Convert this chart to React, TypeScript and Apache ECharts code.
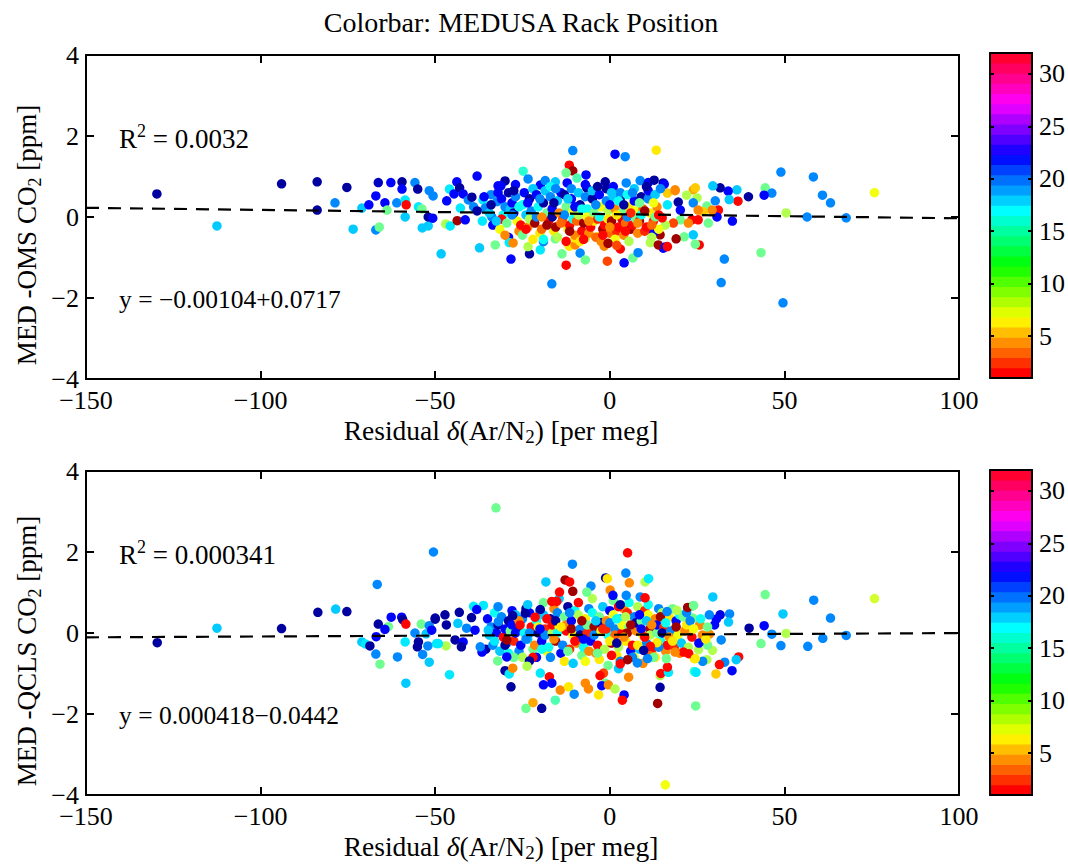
import React, { useEffect, useRef } from 'react';
import * as echarts from 'echarts';

const FONT = "'Liberation Serif', 'Times New Roman', serif";

// ---------- axes / labels ----------
const xTicks = [-150, -100, -50, 0, 50, 100];
const yTicks = [-4, -2, 0, 2, 4];
const colorbarTicks = [5, 10, 15, 20, 25, 30];
const colorRange = [1, 32];
const colorLevels = 32;

const titleText = 'Colorbar: MEDUSA Rack Position';
const yNames = [
  ['MED -OMS CO', '2', ' [ppm]'],
  ['MED -QCLS CO', '2', ' [ppm]'],
];
const xName = ['Residual ', 'δ', '(Ar/N', '2', ') [per meg]'];
const r2Values = ['0.0032', '0.000341'];
const fitTexts = ['y = −0.00104+0.0717', 'y = 0.000418−0.0442'];

// dashed fit lines (endpoints at x=-150 and x=100)
const fitTop = [[-150, 0.227], [100, -0.032]];
const fitBottom = [[-150, -0.107], [100, -0.002]];

// ---------- data: [residual, difference, rack position] ----------
const topSpread = [
  [-129.7, 0.57, 2], [-112.5, -0.22, 11], [-94, 0.82, 2], [-83.8, 0.87, 2], [-83.8, 0.17, 2],
  [-75.3, 0.73, 2], [-78.7, 0.35, 9], [-73.5, -0.3, 11], [-71, 0.22, 11], [-69, 0.3, 5],
  [-67, -0.32, 9], [-66, -0.25, 16], [-66.3, 0.85, 3], [-67, 0.52, 5], [-64.4, 0.35, 5],
  [-63.8, 0.17, 16], [-62.7, 0.85, 5], [-61, 0.35, 9], [-59.5, 0.87, 2], [-59.5, 0.69, 5],
  [-58.6, 0.42, 12], [-58.3, 0.3, 28], [-58.6, 0, 11], [-55.8, 0.85, 9], [-55, 0.69, 2],
  [-54.8, 0.25, 12], [-53.8, 0.2, 16], [-53.7, -0.27, 11], [-52, -0.22, 11], [-51.7, 0.65, 9],
  [-50.6, 0.52, 9], [-52, 0, 2], [-50.7, -0.03, 5], [-48.3, -0.91, 11], [-47, -0.17, 18],
  [-45.7, -0.22, 12], [-46.7, 0.4, 5], [-45.9, 0.69, 12], [-44.6, 0.57, 5], [-43.7, -0.09, 31],
  [-43.8, 0.87, 5], [-43, 0.72, 2], [-42, 0.57, 5], [-41.4, -0.07, 5], [-42.8, 0.22, 12],
  [-40.5, 0.42, 9], [-39.5, 0.49, 2], [-39, 0.25, 9], [-38, 1.01, 5], [-37.3, -0.76, 11],
  [-36.3, 0.42, 12], [-35.7, 0.22, 9], [-32.8, -0.69, 16], [-33.8, 0, 9], [-32, 0.77, 5],
  [-32.3, 0.38, 9],
  [49, 1.11, 9], [58.3, 0.99, 9], [60.9, 0.54, 9], [63.2, 0.35, 9], [75.8, 0.6, 20],
  [67.7, -0.02, 9], [56.5, 0, 9], [50.5, 0.1, 18], [44.5, 0.72, 16], [46.4, 0.59, 9],
  [44.2, 0.54, 5], [43.3, -0.88, 16], [49.6, -2.12, 9], [31.9, -1.62, 9], [32.8, -1.04, 9],
  [39.7, 0.5, 2], [36.7, 0.39, 28], [36.4, 0.67, 11], [33.9, 0.64, 5], [34.2, 0.43, 11],
  [31.6, 0.72, 2], [29.5, 0.77, 11], [30.2, 0.4, 9], [35.1, -0.1, 5], [31.1, 0.17, 28],
  [30.7, 0, 5], [28.2, -0.15, 16], [25.6, -0.69, 28], [23.9, -0.44, 11], [24.5, -0.67, 16],
  [21.3, -0.49, 16], [15.3, -0.77, 5], [14.4, -0.44, 31], [23.9, 0.67, 23], [24.5, 0.72, 22],
  [22, 0.54, 18], [25, 0.47, 18], [23.9, 0.35, 9], [27.8, 0.27, 16], [29.3, 0.17, 24],
  [26.8, 0.13, 22], [25.3, 0.17, 24], [23.5, -0.07, 28], [25.3, -0.07, 28], [20.2, -0.07, 16],
  [22.5, -0.15, 24], [18.2, -0.15, 26], [15.9, -0.2, 18], [15.3, 0.84, 2], [18.7, 0.67, 24],
  [16.5, 0.59, 22], [19.6, 0.37, 2], [16.5, 0.3, 12], [20.2, 0.17, 5], [15, -0.02, 28],
];

const topCluster = [
  [-34, 0.55, 9], [-34.5, 0.1, 11], [-33.5, -0.2, 5], [-34, 0.3, 2],
  [-31, 0.45, 5], [-30.5, 0.05, 13], [-31.5, -0.3, 20], [-30, 0.25, 9], [-31, -0.05, 28],
  [-29, 0.6, 2], [-28.5, 0.2, 11], [-29.5, -0.15, 16], [-28, 0.35, 5],
  [-27, 0.5, 9], [-26.5, -0.1, 20], [-27.5, 0.1, 2], [-26, -0.35, 24], [-27, 0.8, 5],
  [-25, 0.3, 13], [-24.5, 0.6, 5], [-25.5, -0.2, 28], [-24, 0.05, 11], [-25, -0.45, 16],
  [-23, 0.45, 2], [-22.5, 0.15, 9], [-23.5, -0.25, 24], [-22, 0.7, 11], [-23, -0.05, 18],
  [-21, 0.55, 5], [-20.5, 0.25, 13], [-21.5, -0.15, 31], [-20, -0.4, 21], [-21, 0, 9],
  [-19, 0.35, 2], [-18.5, 0.65, 11], [-19.5, -0.3, 25], [-18, 0.1, 16], [-19, -0.55, 13],
  [-17, 0.5, 9], [-16.5, 0.2, 5], [-17.5, -0.1, 28], [-16, -0.35, 21], [-17, 0.75, 13], [-16.5, 0, 2],
  [-15, 0.4, 11], [-14.5, 0.1, 24], [-15.5, -0.25, 31], [-14, 0.6, 5], [-15, -0.5, 18],
  [-13, 0.55, 2], [-12.5, 0.25, 16], [-13.5, -0.05, 26], [-12, -0.3, 21], [-13, 0.05, 9], [-12.5, -0.6, 28],
  [-11, 0.45, 5], [-10.5, 0.15, 20], [-11.5, -0.2, 28], [-10, -0.45, 24], [-11, 0.7, 9], [-10.5, -0.05, 13],
  [-9, 0.6, 11], [-8.5, 0.3, 2], [-9.5, -0.1, 25], [-8, -0.35, 28], [-9, 0.05, 18], [-8.5, -0.6, 21],
  [-7, 0.5, 9], [-6.5, 0.2, 13], [-7.5, -0.15, 31], [-6, -0.4, 24], [-7, 0.8, 5], [-6.5, 0, 20],
  [-5, 0.45, 2], [-4.5, 0.1, 16], [-5.5, -0.25, 28], [-4, -0.5, 25], [-5, 0.65, 11], [-4.5, -0.1, 21],
  [-3, 0.55, 5], [-2.5, 0.25, 20], [-3.5, -0.05, 27], [-2, -0.3, 31], [-3, 0, 13], [-2.5, -0.6, 24],
  [-1, 0.4, 9], [-0.5, 0.15, 18], [-1.5, -0.2, 28], [0, -0.4, 25], [-1, 0.7, 2], [-0.5, -0.05, 21],
  [1, 0.5, 11], [1.5, 0.2, 24], [0.5, -0.1, 31], [2, -0.35, 27], [1, 0.75, 5], [1.5, -0.55, 20],
  [3, 0.45, 2], [3.5, 0.1, 16], [2.5, -0.25, 28], [4, -0.45, 24], [3, 0.6, 9], [3.5, -0.05, 29],
  [5, 0.55, 13], [5.5, 0.25, 21], [4.5, -0.15, 25], [6, -0.3, 31], [5, 0, 9], [5.5, -0.6, 18],
  [7, 0.4, 5], [7.5, 0.15, 20], [6.5, -0.2, 28], [8, -0.4, 24], [7, 0.7, 11], [7.5, -0.05, 16],
  [9, 0.5, 2], [9.5, 0.2, 25], [8.5, -0.1, 31], [10, -0.35, 27], [9, 0.05, 13],
  [11, 0.45, 9], [11.5, 0.1, 21], [10.5, -0.25, 28], [12, -0.5, 18], [11, 0.65, 5],
  [13, 0.55, 11], [13.5, 0.25, 24], [12.5, -0.1, 27], [14, -0.3, 20], [13, 0, 16],
];

const topClusterFill = [
  [-32, 0.6, 5], [-32.5, -0.1, 11], [-30, -0.45, 24],
  [-28, 0.05, 9], [-27.5, 0.65, 2], [-26, 0.25, 13],
  [-24, -0.3, 28], [-23.5, 0.35, 5], [-22, -0.55, 21],
  [-20, 0.45, 9], [-19.5, 0, 24], [-18, -0.2, 31],
  [-16, 0.35, 2], [-15.5, 0.7, 9], [-14, -0.15, 25],
  [-12, 0.45, 11], [-11.5, -0.35, 31], [-10, 0.25, 5],
  [-8, 0.2, 13], [-7.5, -0.55, 28], [-6, -0.1, 24],
  [-4, 0.3, 9], [-3.5, 0.75, 2], [-2, -0.45, 28],
  [0, 0.3, 5], [0.5, 0.6, 11], [0, -0.25, 24], [-0.5, -0.65, 31],
  [2, 0.05, 21], [2.5, 0.4, 13], [2, -0.7, 26],
  [4, 0.3, 2], [4.5, -0.35, 28], [6, 0.1, 27],
  [6.5, 0.6, 9], [8, -0.15, 24], [8.5, 0.35, 16],
  [10, 0.15, 31], [10.5, 0.75, 2], [12, -0.2, 25],
  [12.5, 0.35, 20], [14, 0.05, 28], [14.5, 0.7, 9],
  [-36, 0.5, 5], [-36.5, -0.1, 12], [-38, 0.15, 2],
];

const topEdges = [
  [-10.6, 1.64, 9], [1.5, 1.55, 5], [4.4, 1.49, 9], [13.3, 1.65, 21], [-11.6, 1.28, 28],
  [-10.6, 1.14, 31], [-12.5, 1.09, 16], [-24.8, 1.13, 14], [-23.4, 0.94, 9], [-30, 0.89, 2],
  [-31.2, 0.77, 5], [-19.9, 0.79, 5], [-18.5, 0.9, 9], [-15.6, 0.87, 11], [-12.2, 0.84, 5],
  [-9.4, 0.96, 15], [-6.8, 1.04, 5], [-6.6, 0.72, 2], [-1.3, 0.87, 2], [4.7, 0.84, 9],
  [8.7, 0.9, 9], [11, 0.85, 5], [12.7, 0.91, 2], [15.6, 0.81, 5], [18.7, 0.65, 24],
  [-28.3, -1.04, 5], [-29, -0.5, 5], [-28.8, -0.63, 12], [-27.7, -0.64, 24], [-23, -0.91, 2],
  [-23.4, -0.73, 18], [-19.9, -0.81, 12], [-19, -0.61, 9], [-15.6, -0.54, 16], [-16.6, -1.65, 9],
  [-13.7, -0.91, 16], [-12.5, -1.19, 28], [-11.6, -0.72, 21], [-9.9, -0.69, 24], [-9.9, -0.52, 21],
  [-8.5, -0.89, 9], [-7, -1.06, 16], [-7, -0.52, 18], [-3.3, -0.49, 21], [-1.6, -0.72, 24],
  [-0.7, -1.09, 26], [3, -0.79, 28], [4.1, -1.13, 5], [6.6, -1.01, 16], [8.1, -0.88, 9],
  [11.6, -0.63, 18], [12.4, -0.4, 5], [13.9, -0.69, 31], [15.9, -0.74, 5], [16.5, -0.73, 28],
  [19, -0.54, 31],
];

const bottomSpread = [
  [-129.6, -0.24, 2], [-112.5, 0.12, 11], [-94, 0.11, 2], [-83.6, 0.51, 2], [-78.5, 0.59, 11],
  [-75.3, 0.53, 2], [-66.6, 1.2, 9], [-50.5, 2.0, 9], [-66.3, 0.22, 2], [-63.4, 0.16, 16],
  [-64.4, 0.09, 5], [-62.6, 0.39, 5], [-59.6, 0.39, 5], [-59.3, 0.33, 2], [-58.4, 0.22, 28],
  [-54, 0.22, 16], [-51.7, 0.18, 9], [-50, 0.34, 2], [-55.8, 0, 9], [-52.6, -0.02, 11],
  [-51, 0.07, 5], [-66.9, -0.09, 5], [-71, -0.22, 11], [-70, -0.27, 12], [-68.7, -0.32, 2],
  [-67, -0.52, 9], [-65.8, -0.77, 16], [-60.8, -0.59, 9], [-58.6, -0.22, 12], [-58.4, -1.24, 11],
  [-54.8, -0.22, 2], [-55.1, -0.34, 2], [-52.1, -0.32, 9], [-53.6, -0.53, 9], [-51.7, -0.72, 11],
  [-49.6, -0.26, 12],
  [29.5, 0.89, 11], [44.5, 0.95, 16], [58.4, 0.81, 9], [75.8, 0.85, 19], [49.6, 0.47, 11],
  [63.2, 0.37, 9], [44.2, 0.18, 5], [39.9, 0.12, 2], [46.4, -0.03, 9], [50.5, -0.01, 18],
  [43.3, -0.26, 16], [49, -0.31, 9], [56.7, -0.33, 9], [61, -0.13, 9], [67.7, -0.06, 9],
  [31.6, 0.45, 4], [30.5, 0.34, 5], [34.3, 0.47, 9], [34, 0.27, 11], [30, 0.2, 5],
  [31.9, -0.17, 9], [28.5, -0.03, 24], [25.7, 0.2, 24], [36.9, -0.59, 28], [36.2, -0.66, 11],
  [35, -0.93, 5], [32.9, -0.72, 9], [31.4, -0.78, 28], [30.4, -1.01, 22], [29.4, -0.43, 18],
  [27.8, -0.66, 18], [26.6, -0.7, 9], [28, -0.3, 16], [25.4, -0.41, 18], [24.2, -0.63, 21],
  [24.2, -0.95, 14], [23.5, 0.66, 16], [23.8, 0.37, 16], [25.9, 0.2, 24],
];

const bottomCluster = [
  [-35, 0.35, 5], [-34.5, -0.05, 11], [-35.5, -0.4, 2], [-34, 0.15, 9],
  [-33, 0.5, 13], [-32.5, 0, 5], [-33.5, -0.3, 9], [-32, 0.2, 2],
  [-31, 0.4, 9], [-30.5, -0.1, 28], [-31.5, -0.45, 11], [-30, 0.1, 5],
  [-29, 0.3, 2], [-28.5, 0.05, 16], [-29.5, -0.25, 9], [-28, 0.55, 5], [-29, -0.5, 13],
  [-27, 0.45, 11], [-26.5, 0.1, 2], [-27.5, -0.2, 27], [-26, -0.45, 9], [-27, 0, 5],
  [-25, 0.35, 9], [-24.5, 0, 13], [-25.5, -0.3, 5], [-24, 0.6, 2], [-25, -0.6, 18],
  [-23, 0.5, 5], [-22.5, 0.15, 28], [-23.5, -0.15, 11], [-22, -0.4, 16], [-23, 0, 9],
  [-21, 0.3, 13], [-20.5, 0, 2], [-21.5, -0.3, 24], [-20, 0.55, 9], [-21, -0.6, 5], [-20.5, 0.15, 20],
  [-19, 0.45, 11], [-18.5, 0.1, 27], [-19.5, -0.2, 5], [-18, -0.45, 20], [-19, 0.75, 16], [-18.5, -0.05, 9],
  [-17, 0.35, 2], [-16.5, 0, 18], [-17.5, -0.35, 13], [-16, 0.6, 24], [-17, -0.6, 9], [-16.5, 0.2, 28],
  [-15, 0.5, 9], [-14.5, 0.15, 20], [-15.5, -0.2, 31], [-14, -0.5, 5], [-15, 0, 13], [-14.5, 0.85, 11],
  [-13, 0.4, 16], [-12.5, 0.05, 28], [-13.5, -0.3, 9], [-12, 0.65, 2], [-13, -0.7, 21], [-12.5, 0.2, 24],
  [-11, 0.3, 5], [-10.5, -0.05, 20], [-11.5, -0.4, 27], [-10, 0.55, 13], [-11, 0.1, 31], [-10.5, -0.75, 11],
  [-9, 0.45, 18], [-8.5, 0.1, 9], [-9.5, -0.25, 24], [-8, -0.55, 16], [-9, 0.75, 28], [-8.5, -0.05, 2],
  [-7, 0.35, 21], [-6.5, 0, 27], [-7.5, -0.35, 13], [-6, 0.6, 9], [-7, -0.7, 20], [-6.5, 0.2, 16],
  [-5, 0.5, 13], [-4.5, 0.15, 31], [-5.5, -0.2, 5], [-4, -0.5, 24], [-5, 0.85, 18], [-4.5, -0.05, 9],
  [-3, 0.4, 16], [-2.5, 0.05, 20], [-3.5, -0.3, 28], [-2, 0.65, 11], [-3, -0.65, 21], [-2.5, 0.25, 2],
  [-1, 0.3, 24], [-0.5, -0.05, 13], [-1.5, -0.4, 18], [0, 0.55, 5], [-1, 0.1, 27], [-0.5, -0.8, 16],
  [1, 0.45, 20], [1.5, 0.1, 9], [0.5, -0.25, 31], [2, -0.55, 21], [1, 0.8, 16], [1.5, -0.05, 25],
  [3, 0.35, 11], [3.5, 0, 28], [2.5, -0.35, 18], [4, 0.6, 24], [3, -0.7, 9], [3.5, 0.2, 20],
  [5, 0.5, 27], [5.5, 0.15, 16], [4.5, -0.2, 21], [6, -0.45, 5], [5, 0, 31], [5.5, 0.75, 13],
  [7, 0.4, 9], [7.5, 0.05, 24], [6.5, -0.3, 28], [8, 0.65, 18], [7, -0.6, 20], [7.5, 0.25, 2],
  [9, 0.3, 16], [9.5, -0.05, 21], [8.5, -0.4, 11], [10, 0.55, 27], [9, 0.1, 5], [9.5, -0.75, 24],
  [11, 0.45, 20], [11.5, 0.1, 31], [10.5, -0.25, 9], [12, -0.5, 25], [11, 0.7, 13], [11.5, -0.05, 18],
  [13, 0.35, 24], [13.5, 0, 16], [12.5, -0.35, 28], [14, 0.6, 9], [13, -0.6, 21], [13.5, 0.2, 5],
  [15, 0.5, 18], [15.5, 0.15, 27], [14.5, -0.2, 13], [16, -0.45, 24], [15, 0, 2],
  [17, 0.4, 21], [17.5, 0.05, 9], [16.5, -0.3, 28], [18, 0.6, 16], [17, -0.1, 24],
  [19, 0.3, 5], [19.5, -0.05, 20], [18.5, -0.35, 27], [20, 0.45, 13], [19, 0.15, 31],
  [21, 0.4, 16], [21.5, 0.05, 24], [20.5, -0.25, 11], [22, 0.2, 21],
  [23, 0.3, 9], [23.5, -0.1, 28], [22.5, -0.35, 18], [24, 0.1, 20],
  [26, 0.35, 13], [26.5, -0.05, 24], [25.5, -0.25, 5],
  [28, 0.15, 16], [28.5, 0.45, 9], [27.5, -0.15, 21],
];

const bottomClusterFill = [
  [-32, 0.65, 9], [-33, -0.2, 12], [-30, -0.3, 2],
  [-28, 0.2, 5], [-27.5, -0.6, 16], [-26, 0.3, 24],
  [-24, -0.15, 9], [-23.5, 0.7, 11], [-22, -0.6, 28],
  [-20, 0.1, 5], [-19.5, -0.4, 13], [-18, 0.35, 28],
  [-16, -0.15, 24], [-15.5, 0.3, 2], [-14, 0.15, 21],
  [-12, -0.45, 16], [-11.5, 0.5, 9], [-10, -0.2, 28],
  [-8, 0.3, 31], [-7.5, -0.15, 5], [-6, -0.45, 24],
  [-4, 0.3, 11], [-3.5, -0.5, 16], [-2, 0.1, 27],
  [0, 0.25, 9], [0.5, -0.55, 28], [0, -0.2, 21],
  [2, 0.35, 13], [2.5, 0.65, 28], [2, -0.25, 2],
  [4, -0.1, 24], [4.5, 0.4, 18], [6, 0.2, 31],
  [6.5, -0.6, 9], [8, -0.3, 21], [8.5, 0.45, 5],
  [10, -0.1, 28], [10.5, 0.3, 11], [12, 0.2, 24],
  [12.5, -0.6, 16], [14, -0.35, 9], [14.5, 0.4, 31],
  [16, 0.25, 13], [18, -0.2, 21], [20, -0.5, 24], [22, 0.5, 9],
];

const bottomEdges = [
  [-32.6, 3.09, 16], [-10.7, 1.7, 9], [5.1, 1.98, 28], [4.6, 1.48, 9], [-18.3, 1.26, 11],
  [-12.8, 1.31, 31], [-11.5, 1.26, 28], [-1.2, 1.36, 2], [-0.7, 1.34, 21], [5.6, 1.24, 24],
  [10.1, 1.26, 18], [11.1, 1.34, 12], [-10.6, 1.03, 31], [-14.4, 1.01, 28], [-16.6, 0.78, 28],
  [-15.2, 0.78, 28], [-5.4, 1.16, 9], [-6.6, 1.01, 16], [0.1, 1.06, 24], [0.9, 0.93, 5],
  [3, 0.7, 2], [4.7, 0.93, 9], [8.7, 0.89, 9], [10.1, 0.87, 28], [22.3, 0.63, 31],
  [24, 0.68, 16], [19.2, 0.56, 18], [16.4, 0.53, 9], [-39, 0.66, 12], [-36.2, 0.68, 12],
  [-38.1, 0.58, 5], [-39.6, 0.38, 2], [-43.1, 0.51, 2], [-47.2, 0.45, 2], [-50, 0.37, 2],
  [-46.8, 0.2, 2], [-43.5, 0.24, 11], [-41, 0.12, 9], [-38.6, 0.07, 5], [-34.8, 0.07, 11],
  [-31.9, 0.28, 9], [-27.8, 0.43, 2], [-24.2, 0.49, 2], [-19.9, 0.58, 2], [-25.7, 0.2, 28],
  [-21.4, 0.39, 28], [-44.3, -0.17, 2], [-42, -0.22, 5], [-42.5, -0.34, 2], [-46.9, -0.32, 18],
  [-49.1, -0.26, 12], [-45.9, -1.03, 12], [-36.6, -0.47, 5], [-37.1, -0.34, 9], [-29.5, -0.17, 31],
  [-29.5, -0.59, 5], [-32.1, -0.69, 16], [-30, -0.93, 2], [-28.8, -1.01, 12], [-27.8, -0.87, 24],
  [-28.3, -1.33, 2], [-23, -0.69, 2], [-23.7, -0.82, 18], [-19.9, -0.99, 12], [-17.3, -1.08, 28],
  [-16.6, -1.24, 5], [-19, -1.28, 5], [-22, -1.72, 23], [-24, -1.86, 16], [-19.5, -1.86, 2],
  [-15.6, -1.66, 15], [-14.2, -1.41, 24], [-11.8, -1.33, 21], [-10.2, -1.51, 9], [-7, -1.24, 24],
  [-6.1, -1.38, 24], [-3.2, -1.53, 21], [-1.8, -0.99, 26], [-2.8, -1.05, 28], [-1.3, -1.24, 16],
  [-2.3, -1.3, 5], [-0.4, -1.28, 24], [1.5, -1.38, 18], [4.1, -1.53, 5], [3.6, -1.66, 28],
  [2.5, -0.88, 11], [5.4, -1.09, 24], [3, -0.76, 28], [5.1, -0.66, 31], [7.9, -0.74, 9],
  [10.8, -0.63, 9], [14.4, -1.05, 18], [14.6, -1.0, 28], [14.4, -1.34, 2], [13.7, -1.74, 31],
  [16.8, -0.97, 12], [16.5, -0.84, 28], [16.2, -0.63, 16], [13.5, -0.24, 21], [11.6, -0.33, 28],
  [9.7, -0.43, 2], [21.1, -0.47, 28], [22.6, -0.51, 28], [24.5, -0.63, 21], [24.7, -0.97, 12],
  [24.6, -1.8, 16], [18.7, -0.47, 24], [15.9, -3.75, 20],
];

// ---------- layout ----------
const PLOT_LEFT = 86;
const PLOT_W = 873;
const PLOT_H = 324;
const PANEL_TOPS = [55, 471];
const CB_LEFT = 990;
const CB_W = 42;
const CB_H = 325;
const CB_TOPS = [53, 470];

// ---------- colour maps ----------
const clamp = (v: number) => Math.max(0, Math.min(1, v));
const toRgb = (r: number, g: number, b: number) =>
  `rgb(${Math.round(r * 255)},${Math.round(g * 255)},${Math.round(b * 255)})`;
const jet = (c: number) => {
  const t = (c - colorRange[0]) / (colorRange[1] - colorRange[0]);
  return toRgb(
    clamp(Math.min(4 * t - 1.5, -4 * t + 4.5)),
    clamp(Math.min(4 * t - 0.5, -4 * t + 3.5)),
    clamp(Math.min(4 * t + 0.5, -4 * t + 2.5))
  );
};
const hsv = (h: number) => {
  const i = Math.floor(h * 6) % 6;
  const f = h * 6 - Math.floor(h * 6);
  const q = 1 - f;
  const rgb = [[1, f, 0], [q, 1, 0], [0, 1, f], [0, q, 1], [f, 0, 1], [1, 0, q]][i];
  return toRgb(rgb[0], rgb[1], rgb[2]);
};

const bands: number[][] = [];
for (let k = 0; k < colorLevels; k++) {
  const step = (colorRange[1] - colorRange[0]) / colorLevels;
  bands.push([colorRange[0] + k * step, colorRange[0] + (k + 1) * step, k]);
}

const minus = (v: number) => String(v).replace('-', '−');

const mkRich = (size: number, lh: number) => ({
  a: { fontSize: size, fontFamily: FONT, color: '#000', lineHeight: lh },
  i: { fontSize: size, fontFamily: FONT, color: '#000', lineHeight: lh, fontStyle: 'italic' },
  sub: { fontSize: Math.round(size * 0.68), fontFamily: FONT, color: '#000', verticalAlign: 'bottom' },
  sup: { fontSize: Math.round(size * 0.68), fontFamily: FONT, color: '#000', verticalAlign: 'top' },
});

function buildOption() {
  const axisLineStyle = { color: '#000', width: 2 };
  const labelStyle = { color: '#000', fontSize: 26, fontFamily: FONT };

  const xAxes: any[] = [];
  const yAxes: any[] = [];
  const grids: any[] = [];

  [0, 1].forEach((p) => {
    grids.push({ left: PLOT_LEFT, top: PANEL_TOPS[p], width: PLOT_W, height: PLOT_H });
  });
  [0, 1].forEach((p) => {
    grids.push({ left: CB_LEFT, top: CB_TOPS[p], width: CB_W, height: CB_H });
  });

  [0, 1].forEach((p) => {
    ['bottom', 'top'].forEach((pos) => {
      xAxes.push({
        type: 'value', gridIndex: p, position: pos, z: 10,
        min: xTicks[0], max: xTicks[xTicks.length - 1], interval: xTicks[1] - xTicks[0],
        axisLine: { show: true, onZero: false, lineStyle: axisLineStyle },
        axisTick: { show: true, inside: true, length: 8, lineStyle: axisLineStyle },
        axisLabel: pos === 'bottom'
          ? { show: true, margin: 8, formatter: minus, ...labelStyle }
          : { show: false },
        splitLine: { show: false },
      });
    });
    ['left', 'right'].forEach((pos) => {
      yAxes.push({
        type: 'value', gridIndex: p, position: pos, z: 10,
        min: yTicks[0], max: yTicks[yTicks.length - 1], interval: yTicks[1] - yTicks[0],
        axisLine: { show: true, onZero: false, lineStyle: axisLineStyle },
        axisTick: { show: true, inside: true, length: 8, lineStyle: axisLineStyle },
        axisLabel: pos === 'left'
          ? { show: true, margin: 7, formatter: minus, ...labelStyle }
          : { show: false },
        splitLine: { show: false },
      });
    });
  });

  [2, 3].forEach((g) => {
    ['bottom', 'top'].forEach((pos) => {
      xAxes.push({
        type: 'value', gridIndex: g, position: pos, min: 0, max: 1, z: 10,
        axisLine: { show: true, onZero: false, lineStyle: axisLineStyle },
        axisTick: { show: false }, axisLabel: { show: false }, splitLine: { show: false },
      });
    });
    ['left', 'right'].forEach((pos) => {
      yAxes.push({
        type: 'value', gridIndex: g, position: pos, z: 10,
        min: colorRange[0], max: colorRange[1],
        axisLine: { show: true, onZero: false, lineStyle: axisLineStyle },
        axisTick: { show: true, inside: true, length: 4, customValues: colorbarTicks, lineStyle: axisLineStyle },
        axisLabel: pos === 'right'
          ? { show: true, margin: 7, customValues: colorbarTicks, ...labelStyle }
          : { show: false },
        splitLine: { show: false },
      });
    });
  });

  const toItems = (arr: number[][]) =>
    arr.map((d) => ({ value: [d[0], d[1], d[2]], itemStyle: { color: jet(d[2]), opacity: 1 } }));

  const scatter = (p: number, data: number[][]) => ({
    type: 'scatter', xAxisIndex: p * 2, yAxisIndex: p * 2, symbol: 'circle', symbolSize: 9.5,
    silent: true, z: 2, itemStyle: { opacity: 1 }, data: toItems(data),
  });

  const fit = (p: number, data: number[][]) => ({
    type: 'line', xAxisIndex: p * 2, yAxisIndex: p * 2, symbol: 'none', silent: true, z: 5,
    lineStyle: { color: '#000', width: 2.2, type: [13, 9] }, data,
  });

  const colorbar = (g: number) => ({
    type: 'custom', xAxisIndex: g * 2, yAxisIndex: g * 2, silent: true, z: 1,
    data: bands,
    renderItem: (params: any, api: any) => {
      const lo = api.value(0);
      const hi = api.value(1);
      const k = api.value(2);
      const p1 = api.coord([0, lo]);
      const p2 = api.coord([1, hi]);
      return {
        type: 'rect',
        shape: { x: p1[0], y: p2[1] - 0.4, width: p2[0] - p1[0], height: p1[1] - p2[1] + 0.8 },
        style: { fill: hsv(k / colorLevels) },
      };
    },
  });

  const series = [
    scatter(0, topSpread), scatter(0, topEdges), scatter(0, topCluster), scatter(0, topClusterFill),
    scatter(1, bottomSpread), scatter(1, bottomCluster), scatter(1, bottomClusterFill), scatter(1, bottomEdges),
    fit(0, fitTop), fit(1, fitBottom),
    colorbar(2), colorbar(3),
  ];

  const graphics: any[] = [
    {
      type: 'text', x: 521, y: 22,
      style: { text: titleText, fontSize: 28, fontFamily: FONT, fill: '#000', align: 'center', verticalAlign: 'middle' },
    },
  ];
  [0, 1].forEach((p) => {
    const top = PANEL_TOPS[p];
    graphics.push({
      type: 'text', x: 27, y: top + 180, rotation: Math.PI / 2,
      style: {
        text: `{a|${yNames[p][0]}}{sub|${yNames[p][1]}}{a|${yNames[p][2]}}`,
        rich: mkRich(27, 33), align: 'center', verticalAlign: 'middle',
      },
    });
    graphics.push({
      type: 'text', x: 501, y: top + 375,
      style: {
        text: `{a|${xName[0]}}{i|${xName[1]}}{a|${xName[2]}}{sub|${xName[3]}}{a|${xName[4]}}`,
        rich: mkRich(27.5, 31), align: 'center', verticalAlign: 'middle',
      },
    });
    graphics.push({
      type: 'text', x: 119, y: top + 84,
      style: {
        text: `{a|R}{sup|2}{a| = ${r2Values[p]}}`,
        rich: mkRich(27, 35), align: 'left', verticalAlign: 'middle',
      },
    });
    graphics.push({
      type: 'text', x: 119, y: top + 244,
      style: {
        text: `{a|${fitTexts[p]}}`,
        rich: mkRich(25.5, 30), align: 'left', verticalAlign: 'middle',
      },
    });
  });

  return {
    animation: false,
    backgroundColor: '#fff',
    grid: grids,
    xAxis: xAxes,
    yAxis: yAxes,
    series,
    graphic: graphics,
  };
}

export default function App() {
  const ref = useRef<HTMLDivElement>(null);
  useEffect(() => {
    if (!ref.current) return;
    const chart = echarts.init(ref.current, undefined, { renderer: 'svg' });
    chart.setOption(buildOption() as any);
    return () => chart.dispose();
  }, []);
  return (
    <div
      ref={ref}
      style={{ position: 'fixed', left: 0, top: 0, width: 1068, height: 865, background: '#fff' }}
    />
  );
}
